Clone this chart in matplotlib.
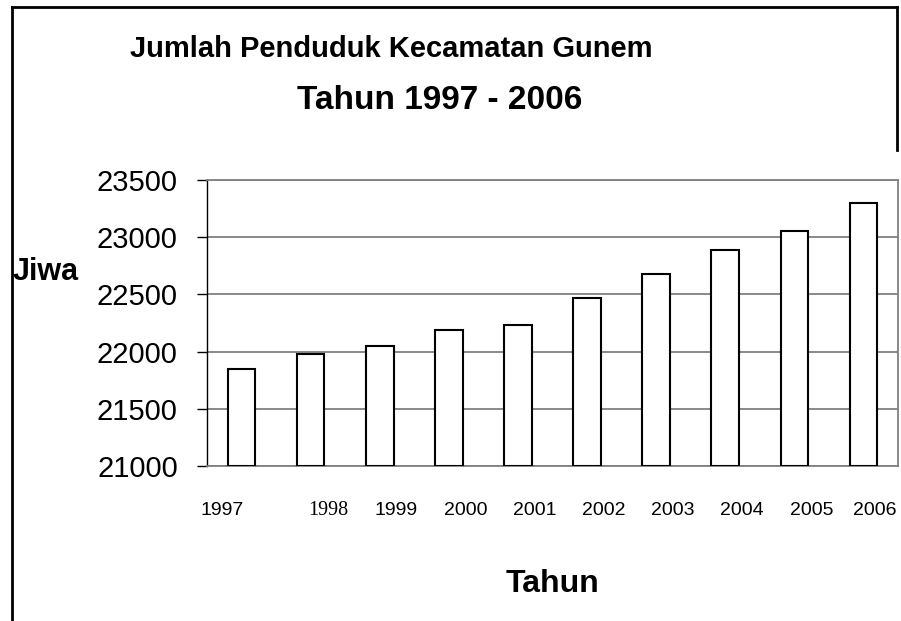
import matplotlib
matplotlib.use("Agg")
import matplotlib.pyplot as plt
from matplotlib.lines import Line2D

# ---- data ----
years = ["1997", "1998", "1999", "2000", "2001", "2002", "2003", "2004", "2005", "2006"]
population = [21850, 21975, 22045, 22190, 22235, 22470, 22675, 22885, 23050, 23295]
y_ticks = [21000, 21500, 22000, 22500, 23000, 23500]

title1 = "Jumlah Penduduk Kecamatan Gunem"
title2 = "Tahun 1997 - 2006"
ylabel = "Jiwa"
xlabel = "Tahun"

# positions of the free-standing year labels (axes fraction)
label_x = [0.022, 0.175, 0.2735, 0.375, 0.4747, 0.5745, 0.674, 0.774, 0.8755, 0.9667]

SANS = ["Liberation Sans", "DejaVu Sans"]
SERIF = ["Liberation Serif", "DejaVu Serif"]

W, H = 901, 621
fig = plt.figure(figsize=(W / 100, H / 100), dpi=100)
fig.patch.set_facecolor("white")

# axes area in pixels: x 207..898, y 180..466
ax = fig.add_axes([207 / W, 1 - 466 / H, (898 - 207) / W, (466 - 180) / H])

x = list(range(len(years)))
ax.bar(x, [p - y_ticks[0] for p in population], bottom=y_ticks[0], width=0.40,
       color="white", edgecolor="black", linewidth=1.5, zorder=3)

ax.set_xlim(-0.5, len(years) - 0.5)
ax.set_ylim(y_ticks[0], y_ticks[-1])
ax.set_yticks(y_ticks)
ax.set_yticklabels([str(v) for v in y_ticks], fontfamily=SANS, fontsize=21)
ax.tick_params(axis="y", direction="out", length=7, width=1, color="black", pad=14)
ax.set_xticks([])

ax.yaxis.grid(True, color="#808080", linewidth=1.3, zorder=0)
ax.set_axisbelow(True)
for s in ["top", "right", "bottom"]:
    ax.spines[s].set_color("#808080")
    ax.spines[s].set_linewidth(1.3)
ax.spines["left"].set_color("black")
ax.spines["left"].set_linewidth(1.0)

# year labels
for lbl, lx in zip(years, label_x):
    fam = SERIF if lbl == "1998" else SANS
    ax.text(lx, 1 - (515 - 180) / (466 - 180), lbl, transform=ax.transAxes,
            ha="center", va="baseline", fontfamily=fam,
            fontsize=14.5 if lbl == "1998" else 14)

# titles and axis labels
fig.text(391 / W, 1 - 57 / H, title1, ha="center", va="baseline",
         fontfamily=SANS, fontweight="bold", fontsize=21)
fig.text(440 / W, 1 - 109 / H, title2, ha="center", va="baseline",
         fontfamily=SANS, fontweight="bold", fontsize=24)
fig.text(13 / W, 1 - 280 / H, ylabel, ha="left", va="baseline",
         fontfamily=SANS, fontweight="bold", fontsize=22)
fig.text(552 / W, 1 - 592 / H, xlabel, ha="center", va="baseline",
         fontfamily=SANS, fontweight="bold", fontsize=23)

# outer frame (left, top, right-top part)
fig.add_artist(Line2D([12 / W, 12 / W], [0, 1 - 7 / H], transform=fig.transFigure,
                      color="black", linewidth=2))
fig.add_artist(Line2D([12 / W, 897 / W], [1 - 7 / H, 1 - 7 / H], transform=fig.transFigure,
                      color="black", linewidth=2))
fig.add_artist(Line2D([897 / W, 897 / W], [1 - 7 / H, 1 - 150 / H], transform=fig.transFigure,
                      color="black", linewidth=2))

fig.savefig("out.png", dpi=100)
